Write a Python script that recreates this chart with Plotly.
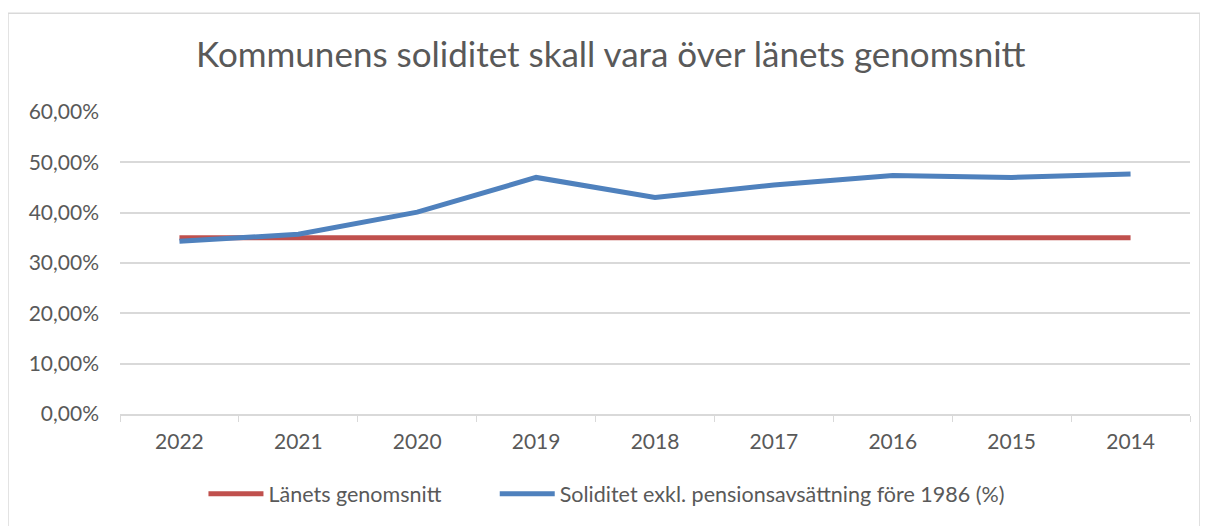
import plotly.graph_objects as go

years = ["2022", "2021", "2020", "2019", "2018", "2017", "2016", "2015", "2014"]
lanets = [0.35, 0.35, 0.35, 0.35, 0.35, 0.35, 0.35, 0.35, 0.35]
soliditet = [0.343, 0.357, 0.401, 0.470, 0.430, 0.455, 0.474, 0.470, 0.477]
y_ticks = [0, 0.1, 0.2, 0.3, 0.4, 0.5, 0.6]
y_labels = ["0,00%", "10,00%", "20,00%", "30,00%", "40,00%", "50,00%", "60,00%"]

FONT = "Lato, 'Open Sans', sans-serif"
GREY = "#595959"
PAD = "\u2003\u2003\u2002\u2009\u2009"  # spacing after the first legend entry

fig = go.Figure()
fig.add_trace(go.Scatter(x=years, y=lanets, mode="lines", name="Länets genomsnitt" + PAD,
                         line=dict(color="#C0504D", width=5)))
fig.add_trace(go.Scatter(x=years, y=soliditet, mode="lines",
                         name="Soliditet exkl. pensionsavsättning före 1986 (%)",
                         line=dict(color="#4F81BD", width=5)))

fig.update_layout(
    width=1208, height=526,
    margin=dict(l=112, r=26, t=104, b=120),
    paper_bgcolor="white", plot_bgcolor="white",
    title=dict(text="Kommunens soliditet skall vara över länets genomsnitt",
               x=0.499, xanchor="center", y=0.911, yanchor="middle",
               font=dict(family=FONT, size=35, color=GREY)),
    font=dict(family=FONT, color=GREY),
    showlegend=True,
    legend=dict(orientation="h", x=0.078, xanchor="left", y=-0.264, yanchor="middle",
                font=dict(family=FONT, size=21.5, color=GREY), itemwidth=55,
                tracegroupgap=0),
    xaxis=dict(type="category", showgrid=False, showline=True, linecolor="#D9D9D9",
               linewidth=1.5, ticks="outside", tickson="boundaries", ticklen=6,
               tickcolor="#D9D9D9", tickfont=dict(size=21, color=GREY),
               ticklabelstandoff=8, range=[-0.5, 8.5]),
    yaxis=dict(range=[0, 0.6], tickvals=y_ticks, ticktext=y_labels,
               showgrid=True, gridcolor="#D9D9D9", gridwidth=1.5,
               zeroline=False, showline=False, ticks="",
               ticklabelstandoff=20,
               tickfont=dict(size=21, color=GREY)),
    shapes=[dict(type="rect", xref="paper", yref="paper",
                 x0=-0.1047, x1=1.0093, y0=-0.5, y1=1.3267,
                 line=dict(color="#D9D9D9", width=1.5), fillcolor="rgba(0,0,0,0)",
                 layer="below")],
)

fig.write_html("out.html")
